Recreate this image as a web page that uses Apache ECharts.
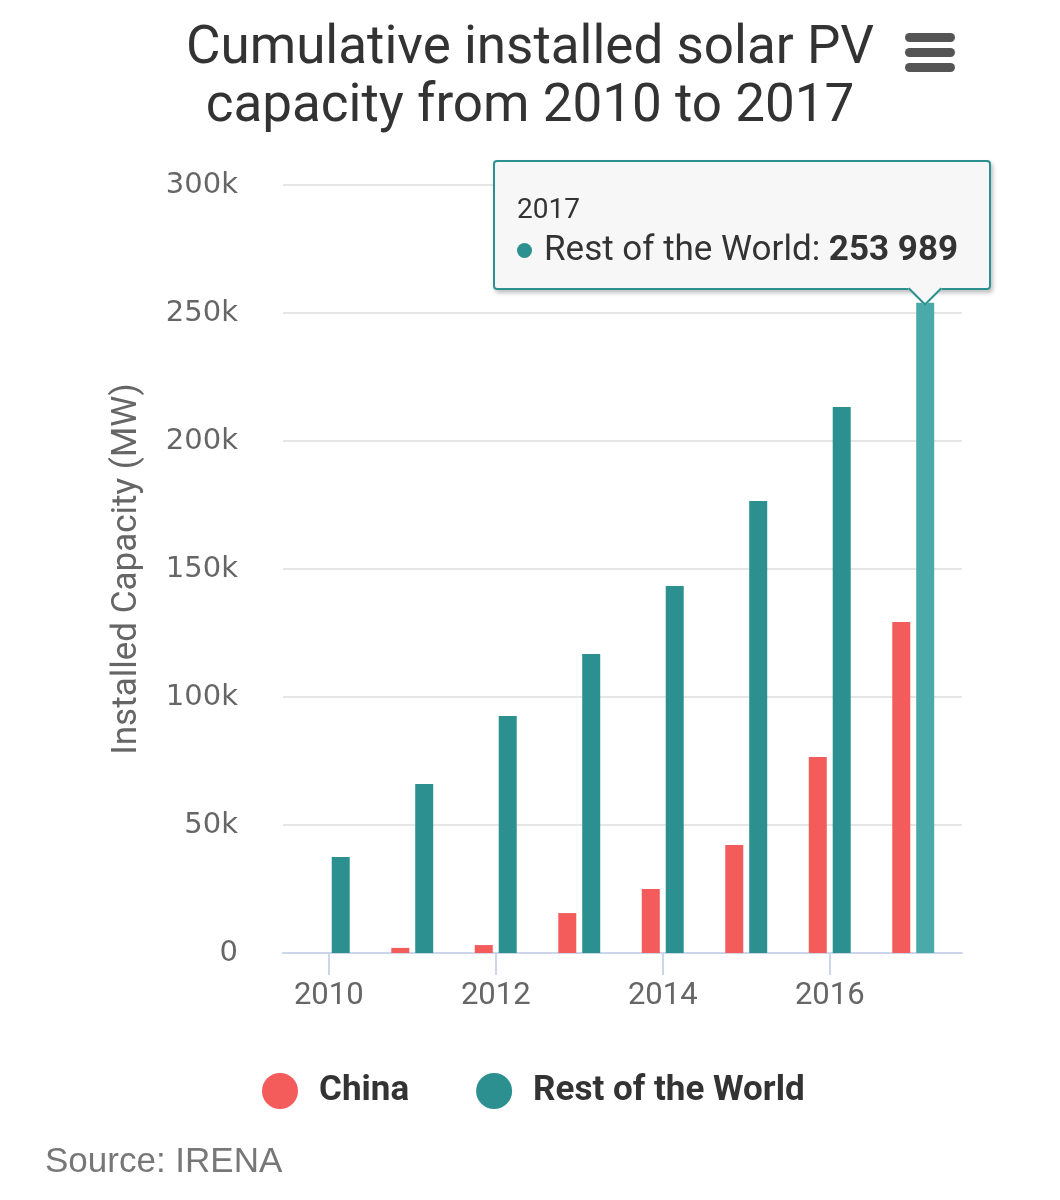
<!DOCTYPE html>
<html>
<head>
<meta charset="utf-8">
<script src="https://cdn.jsdelivr.net/npm/echarts@6/dist/echarts.min.js"></script>
<style>
html,body{margin:0;padding:0;background:#fff;}
#chart{width:1060px;height:1200px;}
</style>
</head>
<body>
<div id="chart"></div>
<script>
const categories = ['2010','2011','2012','2013','2014','2015','2016','2017'];
const chinaValues = [0, 2000, 3100, 15600, 25000, 42200, 76600, 129300];
const rowValues = [37500, 66000, 92600, 116800, 143400, 176600, 213300, 253989];
const yTicks = [0, 50000, 100000, 150000, 200000, 250000, 300000];

const chart = echarts.init(document.getElementById('chart'), null, {renderer:'canvas'});

function fmtNum(v){
  return String(v).replace(/\B(?=(\d{3})+(?!\d))/g, ' ');
}

const option = {
  animation: false,
  backgroundColor: '#fff',
  title: [
    {
      text: 'Cumulative installed solar PV\ncapacity from 2010 to 2017',
      left: 'center', top: 16,
      textStyle: {fontFamily: 'Roboto', fontSize: 53, fontWeight: 'normal', color: '#333', lineHeight: 58}
    },
    {
      text: 'Source: IRENA',
      left: 40, top: 1140,
      textStyle: {fontFamily: 'Liberation Sans', fontSize: 35, fontWeight: 'normal', color: '#777'}
    }
  ],
  legend: {
    data: ['China', 'Rest of the World'],
    left: 257, top: 1068,
    icon: 'circle', itemWidth: 36, itemHeight: 36, itemGap: 67,
    textStyle: {fontFamily: 'Roboto', fontSize: 35, fontWeight: 'bold', color: '#333', padding: [0,0,0,16]}
  },
  tooltip: {
    trigger: 'item',
    triggerOn: 'none',
    alwaysShowContent: true,
    position: function(){ return [493, 160]; },
    backgroundColor: 'rgba(247,247,247,0.97)',
    borderColor: '#2b908f',
    borderWidth: 2,
    borderRadius: 4,
    padding: [31, 31, 15, 22],
    extraCssText: 'box-shadow: 2px 3px 4px rgba(0,0,0,0.25); overflow: visible;',
    textStyle: {fontFamily: 'Roboto', color: '#333'},
    formatter: function(p){
      return '<div style="font-family:Roboto;font-size:28px;color:#333;line-height:32px;">' + p.name + '</div>' +
        '<div style="font-family:Roboto;font-size:35px;color:#333;line-height:48px;">' +
        '<span style="display:inline-block;width:15px;height:15px;border-radius:8px;background:' + p.color + ';vertical-align:middle;margin-right:12px;"></span>' +
        p.seriesName + ': <b>' + fmtNum(p.value) + '</b></div>' +
        '<div style="position:absolute;left:418px;bottom:-13px;width:24px;height:24px;background:rgba(247,247,247,1);border-right:2px solid #2b908f;border-bottom:2px solid #2b908f;transform:rotate(45deg);box-sizing:border-box;"></div>';
    }
  },
  graphic: [
    {type:'rect', left: 905, top: 33, shape:{width:50, height:9, r:4.5}, style:{fill:'#555'}},
    {type:'rect', left: 905, top: 48, shape:{width:50, height:9, r:4.5}, style:{fill:'#555'}},
    {type:'rect', left: 905, top: 63, shape:{width:50, height:9, r:4.5}, style:{fill:'#555'}}
  ],
  grid: [
    {left: 283, right: 98, top: 185, bottom: 247},
    {left: 287, right: 105, top: 185, bottom: 247}
  ],
  xAxis: [
    {
      type: 'category', gridIndex: 0, data: categories,
      axisLine: {lineStyle: {color: '#ccd6eb', width: 2}},
      axisTick: {show: false}, axisLabel: {show: false}
    },
    {
      type: 'category', gridIndex: 1, data: categories,
      axisLine: {show: false},
      axisTick: {show: true, alignWithLabel: true, interval: 1, length: 22, lineStyle: {color: '#ccd6eb', width: 2}},
      axisLabel: {interval: 1, fontFamily: 'Roboto', fontSize: 31, color: '#666', margin: 28}
    }
  ],
  yAxis: [
    {
      type: 'value', gridIndex: 0, min: yTicks[0], max: yTicks[yTicks.length-1], interval: 50000,
      name: 'Installed Capacity (MW)', nameLocation: 'middle', nameGap: 138, nameRotate: 90,
      nameTextStyle: {fontFamily: 'Roboto', fontSize: 35, color: '#666'},
      axisLine: {show: false}, axisTick: {show: false},
      axisLabel: {
        fontFamily: 'DejaVu Sans', fontSize: 29, color: '#666', margin: 45,
        formatter: function(v){ return v === 0 ? '0' : (v/1000) + 'k'; }
      },
      splitLine: {lineStyle: {color: '#e6e6e6', width: 2}}
    },
    {
      type: 'value', gridIndex: 1, min: yTicks[0], max: yTicks[yTicks.length-1], interval: 50000,
      show: false, splitLine: {show: false}
    }
  ],
  series: [
    {
      name: 'China', type: 'bar', xAxisIndex: 1, yAxisIndex: 1,
      data: chinaValues, barWidth: 18, barGap: '33%',
      itemStyle: {color: '#f45b5b'},
      emphasis: {disabled: true}
    },
    {
      name: 'Rest of the World', type: 'bar', xAxisIndex: 1, yAxisIndex: 1,
      data: rowValues, barWidth: 18, barGap: '33%',
      itemStyle: {color: '#2b908f'},
      emphasis: {itemStyle: {color: '#4aaaa9'}}
    }
  ]
};
chart.setOption(option);
chart.dispatchAction({type: 'highlight', seriesIndex: 1, dataIndex: 7});
chart.dispatchAction({type: 'showTip', seriesIndex: 1, dataIndex: 7});
</script>
</body>
</html>
